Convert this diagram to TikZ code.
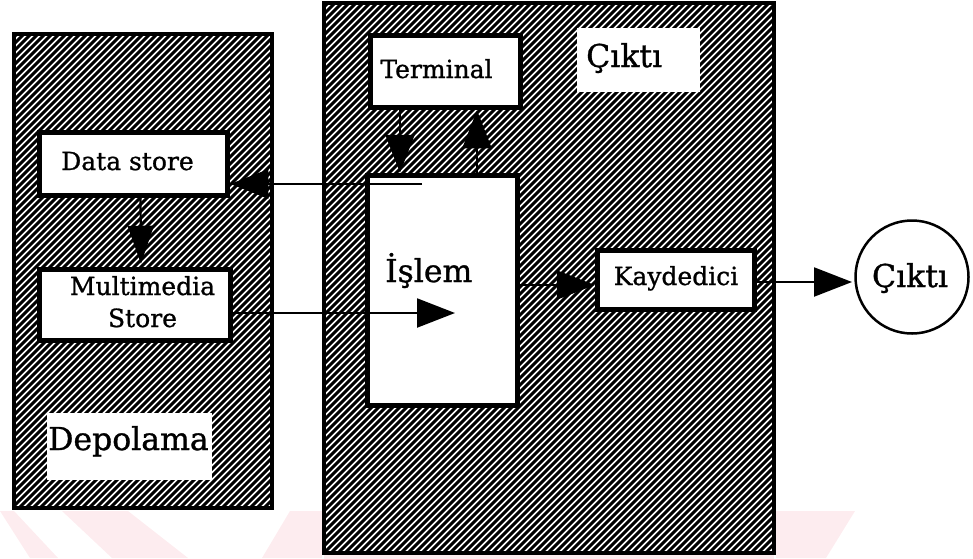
\documentclass[tikz,border=0pt]{standalone}
\usepackage{fontspec}
\setmainfont{DejaVu Serif}[FakeBold=1]
\usetikzlibrary{arrows.meta}

\definecolor{wmpink}{RGB}{253,236,239}

\tikzset{
  panel/.style={fill=white, inner sep=0pt, outer sep=0pt},
  rim/.style={line width=4pt},
  hatch/.style={line width=3pt, black},
  box/.style={draw, fill=white, line width=5.5pt, inner sep=0pt},
  patch/.style={fill=white, inner sep=0pt},
  small/.style={font=\fontsize{25}{29}\selectfont, inner sep=0pt},
  big/.style={font=\fontsize{31.5}{34}\selectfont, inner sep=0pt},
  link/.style={line width=2.2pt, -{Triangle[length=38pt,width=29pt]}},
}

\begin{document}
\begin{tikzpicture}[x=1pt, y=-1pt]
\useasboundingbox (0,0) rectangle (973,558);

% faint watermark bands along the bottom edge
\fill[wmpink] (0,511) -- (14,511) -- (58,558) -- (30,558) -- cycle;
\fill[wmpink] (62,511) -- (128,511) -- (188,558) -- (112,558) -- cycle;
\fill[wmpink] (290,511) -- (322,511) -- (322,558) -- (262,558) -- cycle;
\fill[wmpink] (776,511) -- (855,511) -- (826,558) -- (776,558) -- cycle;

% the two hatched panels
\node[panel, minimum width=258pt, minimum height=474pt] (store) at (143,271) {};
\node[panel, minimum width=450pt, minimum height=550pt] (proc) at (549,278) {};
\fill[wmpink] (proc.south west) rectangle ([yshift=-45pt]proc.south east);

\begin{scope}
  \clip (store.south west) rectangle (store.north east)
        (proc.south west) rectangle (proc.north east);
  \foreach \k in {-600,-593,...,1000}
    \draw[hatch] (\k,560) -- ++(560,-560);
\end{scope}
\draw[rim] (store.south west) rectangle (store.north east);
\draw[rim] (proc.south west) rectangle (proc.north east);

% white label patches
\node[patch, minimum width=165pt, minimum height=67pt] (storepatch) at (129.5,446.5) {};
\node[patch, minimum width=123pt, minimum height=64pt] (outpatch) at (638.5,60) {};

% boxes
\node[box, minimum width=188pt, minimum height=63pt] (ds) at (133.5,164) {};
\node[box, minimum width=191pt, minimum height=71pt] (mm) at (135,305) {};
\node[box, minimum width=150pt, minimum height=72pt] (term) at (445.5,71.5) {};
\node[box, minimum width=150pt, minimum height=230pt] (isl) at (442.5,290.5) {};
\node[box, minimum width=157pt, minimum height=59pt] (kay) at (676,280) {};
\node[draw, circle, line width=2.5pt, fill=white, minimum size=113pt, inner sep=0pt] (out) at (912,277) {};

% connector guides
\coordinate (feed) at (422,184);
\coordinate (intake) at (455,313);
\coordinate (downx) at (400,0);
\coordinate (upx) at (477,0);
\coordinate (rowa) at (0,285);
\coordinate (rowb) at (0,282);

% connectors
\draw[line width=2.2pt] (isl.west |- feed) -- (feed);
\draw[link] (feed) -- (ds.east |- feed);
\draw[link, -{Triangle[length=38pt,width=26pt]}, shorten >=3pt] ([xshift=7pt]ds.south) -- ([xshift=6pt]mm.north);
\draw[link] (mm.east |- intake) -- (intake);
\draw[link] (term.south -| downx) -- (isl.north -| downx);
\draw[link] (isl.north -| upx) -- (term.south -| upx);
\draw[link] (isl.east |- rowa) -- (kay.west |- rowa);
\draw[link] (kay.east |- rowb) -- (852,282) coordinate (outtip);

% texts
\node[small, anchor=base] (dstext) at (127.5,170) {Data store};
\node[small, anchor=base] (mmtext) at (142.5,295) {Multimedia};
\node[small, anchor=base] (mmtext2) at (142.5,327) {Store};
\node[small, anchor=base] (termtext) at (436.5,78) {Terminal};
\node[small, anchor=base] (kaytext) at (676,285) {Kaydedici};
\node[big, anchor=base west] (isltext) at (385,282) {İşlem};
\node[big, anchor=base west] (outlabel) at (586,67) {Çıktı};
\node[big, anchor=base west] (storelabel) at (48,450) {Depolama};
\node[big, anchor=base] (outtext) at (910,287) {Çıktı};
\end{tikzpicture}
\end{document}
